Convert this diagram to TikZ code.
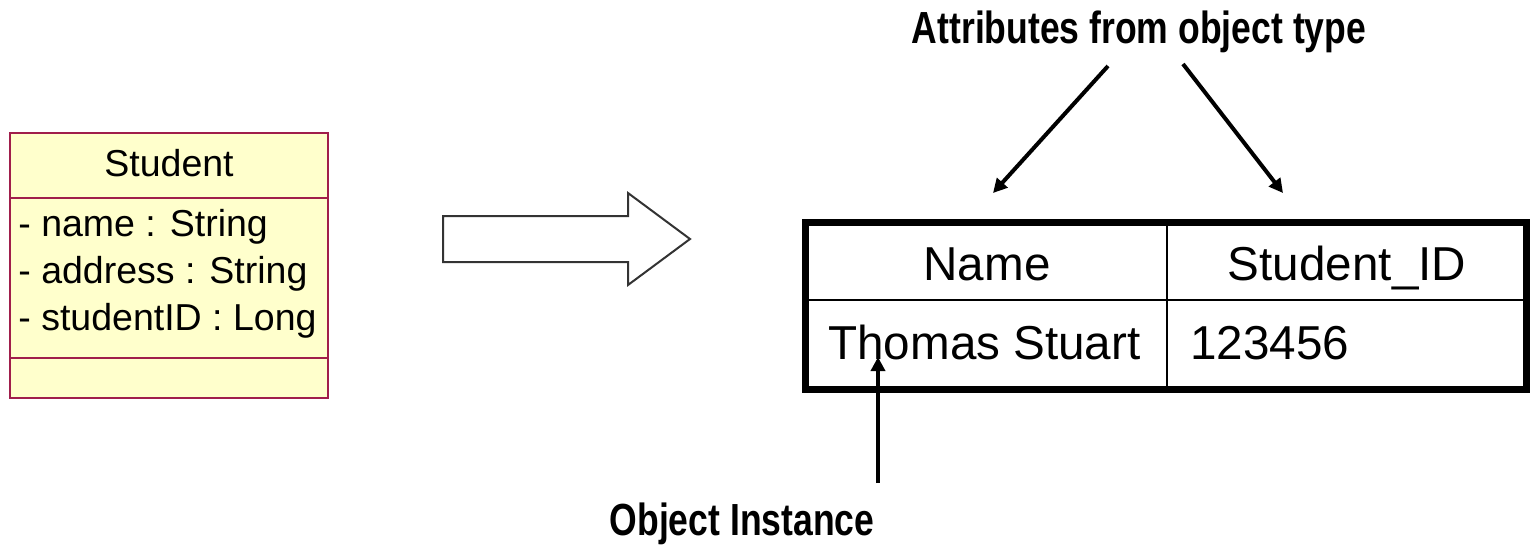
\documentclass[tikz,border=0pt]{standalone}
\usepackage{fontspec}
\setmainfont{Liberation Sans}
\newfontfamily\labelfont[FakeStretch=0.79]{Liberation Sans Bold}
\usetikzlibrary{arrows.meta}
\definecolor{umlborder}{RGB}{160,30,75}
\definecolor{umlfill}{RGB}{255,255,204}
\begin{document}
\begin{tikzpicture}[x=0.5pt,y=-0.5pt,
  umltext/.style={inner sep=0pt,font=\fontsize{18.75pt}{22pt}\selectfont},
  celltext/.style={inner sep=0pt,font=\fontsize{23.8pt}{28pt}\selectfont},
  note/.style={inner sep=0pt,anchor=base,font=\labelfont\fontsize{22.5pt}{26pt}\selectfont},
  pointer/.style={line width=2pt,-{Triangle[length=7pt,width=7pt]}},
  tablerule/.style={line width=1pt},
  tableframe/.style={line width=3.5pt}]
\useasboundingbox (0,0) rectangle (1530,547);

% UML class box
\draw[umlborder,fill=umlfill,line width=1pt] (10,133) rectangle (328,398);
\draw[umlborder,line width=1pt] (10,198) -- (328,198);
\draw[umlborder,line width=1pt] (10,358) -- (328,358);
\node[umltext,anchor=base] (cls) at (169,176) {Student};
\node[umltext,anchor=base west] (a1) at (18,236) {- name : String};
\node[umltext,anchor=base west] (a2) at (18,283) {- address : String};
\node[umltext,anchor=base west] (a3) at (18,330) {- studentID : Long};

% block arrow
\draw[black!80,line width=1pt,line join=miter]
  (443,216) -- (628,216) -- (628,193) -- (690,239) -- (628,285) -- (628,262) -- (443,262) -- cycle;

% table
\draw[tablerule] (1167,222) -- (1167,389);
\draw[tablerule] (805,300) -- (1527,300);
\draw[tableframe] (805.5,222) rectangle (1526.5,389);
\node[celltext,anchor=base] (hname) at (987,280) {Name};
\node[celltext,anchor=base] (hid) at (1347,280) {Student\_ID};
\node[celltext,anchor=base west] (vname) at (828,359) {Thomas Stuart};
\node[celltext,anchor=base west] (vid) at (1190,359) {123456};

% annotations
\node[note] (attrs) at (1139,43) {Attributes from object type};
\node[note] (inst) at (742,535) {Object Instance};
\coordinate (s1) at (1108,66);
\coordinate (t1) at (993,193);
\coordinate (s2) at (1183,64);
\coordinate (t2) at (1283,193);
\coordinate (s3) at (878,483);
\coordinate (t3) at (878,357);
\draw[pointer] (s1) -- (t1);
\draw[pointer] (s2) -- (t2);
\draw[pointer] (s3) -- (t3);
\end{tikzpicture}
\end{document}
